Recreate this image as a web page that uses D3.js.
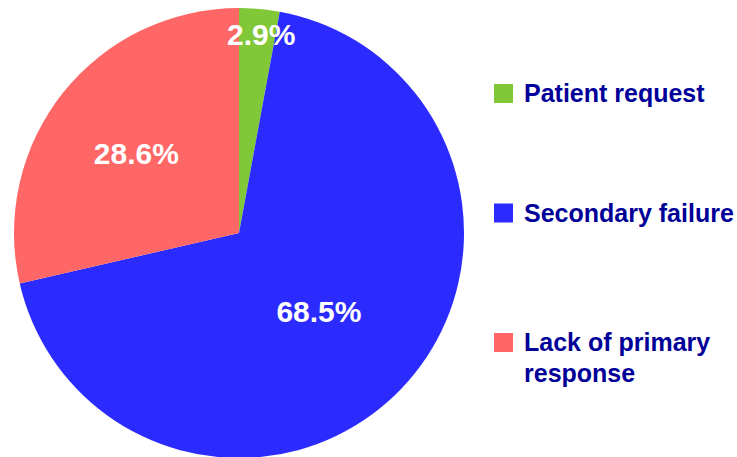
<!DOCTYPE html>
<html>
<head>
<meta charset="utf-8">
<script src="https://cdn.jsdelivr.net/npm/d3@7"></script>
<style>
  body { margin: 0; background: #fff; }
  svg { display: block; font-family: "Liberation Sans", Arial, sans-serif; }
</style>
</head>
<body>
<svg width="737" height="457"></svg>
<script>
var categories = ["Patient request", "Secondary failure", "Lack of primary response"];
var values = [2.9, 68.5, 28.6];
var colors = ["#80c837", "#2b2bff", "#ff6666"];
// legend text, split into lines
var legendLines = [["Patient request"], ["Secondary failure"], ["Lack of primary", "response"]];

var svg = d3.select("svg"),
    width = +svg.attr("width"),
    height = +svg.attr("height");

var cx = 239, cy = 233, radius = 225;

var pie = d3.pie().sort(null).value(function(d) { return d; });
var arc = d3.arc().innerRadius(0).outerRadius(radius);

var arcs = pie(values);

var g = svg.append("g")
    .attr("transform", "translate(" + cx + "," + cy + ")");

g.selectAll("path")
  .data(arcs)
  .enter().append("path")
    .attr("d", arc)
    .attr("fill", function(d, i) { return colors[i]; });

// label distance from centre per slice
var labelR = [201, 112, 130];

g.selectAll("text.lbl")
  .data(arcs)
  .enter().append("text")
    .attr("class", "lbl")
    .attr("transform", function(d, i) {
      var a = (d.startAngle + d.endAngle) / 2;
      if (i == 0) a = a + 0.025;
      var r = labelR[i];
      return "translate(" + (Math.sin(a) * r - 1) + "," + (-Math.cos(a) * r + 1) + ")";
    })
    .attr("text-anchor", "middle")
    .attr("dy", "0.36em")
    .attr("fill", "#fff")
    .attr("font-weight", "bold")
    .attr("font-size", "30px")
    .text(function(d) { return d.data.toFixed(1) + "%"; });

// legend rows (vertical centres)
var legendY = [94, 213.5, 343];

var leg = svg.append("g")
    .attr("class", "legend")
    .selectAll("g")
    .data(categories)
    .enter().append("g")
    .attr("transform", function(d, i) { return "translate(494," + legendY[i] + ")"; });

leg.append("rect")
    .attr("x", 0)
    .attr("y", -10)
    .attr("width", 19)
    .attr("height", 19)
    .attr("fill", function(d, i) { return colors[i]; });

leg.append("text")
    .attr("x", 30)
    .attr("y", 8)
    .attr("fill", "#000099")
    .attr("font-weight", "bold")
    .attr("font-size", "25px")
    .selectAll("tspan")
    .data(function(d, i) { return legendLines[i]; })
    .enter().append("tspan")
      .attr("x", 30)
      .attr("dy", function(d, j) { return j == 0 ? 0 : 31; })
      .text(function(d) { return d; });
</script>
</body>
</html>
